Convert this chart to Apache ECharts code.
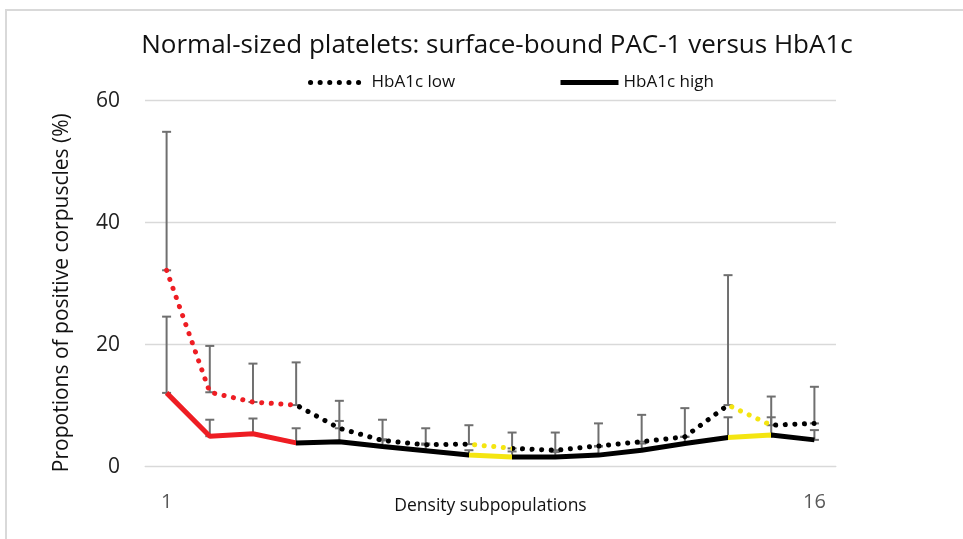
<!DOCTYPE html>
<html>
<head>
<meta charset="utf-8">
<script src="https://cdn.jsdelivr.net/npm/echarts@6/dist/echarts.min.js"></script>
<style>
  html, body { margin: 0; padding: 0; background: #fff; }
  #chart { width: 963px; height: 539px; }
</style>
</head>
<body>
<div id="chart"></div>
<script>
// density subpopulations 1..16
const categories = ['1', '2', '3', '4', '5', '6', '7', '8', '9', '10', '11', '12', '13', '14', '15', '16'];
// HbA1c low group (dotted) and upper end of its error bar
const lowMean  = [32.2, 12.2, 10.6, 10.1, 6.3, 4.3, 3.6, 3.7, 3.0, 2.7, 3.4, 4.1, 4.9, 10.1, 6.8, 7.1];
const lowUpper = [54.9, 19.8, 16.9, 17.1, 10.8, 7.7, 6.3, 6.8, 5.6, 5.6, 7.1, 8.5, 9.6, 31.4, 11.5, 13.1];
// HbA1c high group (solid)
const highMean  = [12.1, 5.0, 5.4, 3.9, 4.1, 3.3, 2.6, 1.9, 1.6, 1.6, 1.9, 2.7, 3.8, 4.8, 5.2, 4.4];
const highUpper = [24.6, 7.7, 7.9, 6.3, 7.5, 4.5, 3.8, 2.7, 2.5, 2.4, 3.3, 3.8, 4.9, 8.1, 8.1, 6.0];
const yTicks = [0, 20, 40, 60];

const FONT = '"Open Sans", "Noto Sans", sans-serif';
const RED = '#ee1d23';
const YELLOW = '#f4e511';
const BLACK = '#000000';

// colour sections along x (category index)
const sections = [
  { lte: 3, color: RED },
  { gt: 3, lte: 7, color: BLACK },
  { gt: 7, lte: 8, color: YELLOW },
  { gt: 8, lte: 13, color: BLACK },
  { gt: 13, lte: 14, color: YELLOW },
  { gt: 14, color: BLACK }
];

function errData(mean, upper) {
  return mean.map((v, i) => [i, v, upper[i]]);
}

function renderErr(params, api) {
  const x = api.value(0);
  const p0 = api.coord([x, api.value(1)]);
  const p1 = api.coord([x, api.value(2)]);
  const hw = 4.5;
  const style = { stroke: '#6f6f6f', lineWidth: 2 };
  return {
    type: 'group',
    children: [
      { type: 'line', shape: { x1: p0[0], y1: p0[1], x2: p1[0], y2: p1[1] }, style: style },
      { type: 'line', shape: { x1: p1[0] - hw, y1: p1[1], x2: p1[0] + hw, y2: p1[1] }, style: style },
      { type: 'line', shape: { x1: p0[0] - hw, y1: p0[1], x2: p0[0] + hw, y2: p0[1] }, style: style }
    ]
  };
}

const myChart = echarts.init(document.getElementById('chart'));
myChart.setOption({
  animation: false,
  backgroundColor: '#fff',
  graphic: [
    {
      type: 'rect',
      shape: { x: 6, y: 10, width: 1100, height: 700 },
      style: { fill: 'none', stroke: '#d9d9d9', lineWidth: 2 },
      silent: true
    }
  ],
  title: {
    text: 'Normal-sized platelets: surface-bound PAC-1 versus HbA1c',
    left: 492,
    textAlign: 'center',
    top: 28,
    textStyle: { fontFamily: FONT, fontSize: 26, fontWeight: 'normal', color: '#111' }
  },
  legend: [
    {
      left: 303,
      top: 69,
      itemWidth: 52,
      itemHeight: 14,
      textStyle: { fontFamily: FONT, fontSize: 17, color: '#111', padding: [0, 0, 0, 4] },
      data: [{ name: 'HbA1c low', itemStyle: { opacity: 0 },
        lineStyle: { color: BLACK, width: 5, type: [0.1, 9.5], cap: 'round' } }]
    },
    {
      left: 553,
      top: 69,
      itemWidth: 58,
      itemHeight: 14,
      textStyle: { fontFamily: FONT, fontSize: 17, color: '#111' },
      data: [{ name: 'HbA1c high', itemStyle: { opacity: 0 },
        lineStyle: { color: BLACK, width: 5, type: 'solid' } }]
    }
  ],
  visualMap: [
    { show: false, type: 'piecewise', seriesIndex: 0, dimension: 0, pieces: sections },
    { show: false, type: 'piecewise', seriesIndex: 1, dimension: 0, pieces: sections }
  ],
  grid: { left: 145, right: 127, top: 100.7, bottom: 72.3 },
  xAxis: {
    type: 'category',
    data: categories,
    boundaryGap: true,
    name: 'Density subpopulations',
    nameLocation: 'middle',
    nameGap: 30,
    nameMoveOverlap: false,
    nameTextStyle: { fontFamily: FONT, fontSize: 17.5, color: '#111', verticalAlign: 'top' },
    axisLine: { show: true, lineStyle: { color: '#d9d9d9', width: 1 } },
    axisTick: { show: false },
    axisLabel: {
      interval: (i) => i === 0 || i === categories.length - 1,
      margin: 26,
      fontFamily: FONT,
      fontSize: 20,
      color: '#595959'
    }
  },
  yAxis: {
    type: 'value',
    min: yTicks[0],
    max: yTicks[yTicks.length - 1],
    interval: 20,
    name: 'Propotions of positive corpuscles (%)',
    nameLocation: 'middle',
    nameGap: 72,
    nameMoveOverlap: false,
    nameRotate: 90,
    nameTextStyle: { fontFamily: FONT, fontSize: 21, color: '#111', padding: [0, 18, 0, 0] },
    axisLine: { show: false },
    axisTick: { show: false },
    axisLabel: { margin: 25, fontFamily: FONT, fontSize: 21, color: '#222' },
    splitLine: { lineStyle: { color: '#d9d9d9', width: 1.3 } }
  },
  series: [
    {
      name: 'HbA1c low',
      type: 'line',
      data: lowMean,
      symbol: 'none',
      z: 5,
      lineStyle: { width: 5, type: [0.1, 9.5], cap: 'round' }
    },
    {
      name: 'HbA1c high',
      type: 'line',
      data: highMean,
      symbol: 'none',
      z: 4,
      lineStyle: { width: 5, type: 'solid' }
    },
    {
      type: 'custom',
      renderItem: renderErr,
      data: errData(lowMean, lowUpper),
      z: 2,
      silent: true
    },
    {
      type: 'custom',
      renderItem: renderErr,
      data: errData(highMean, highUpper),
      z: 2,
      silent: true
    }
  ]
});
</script>
</body>
</html>
